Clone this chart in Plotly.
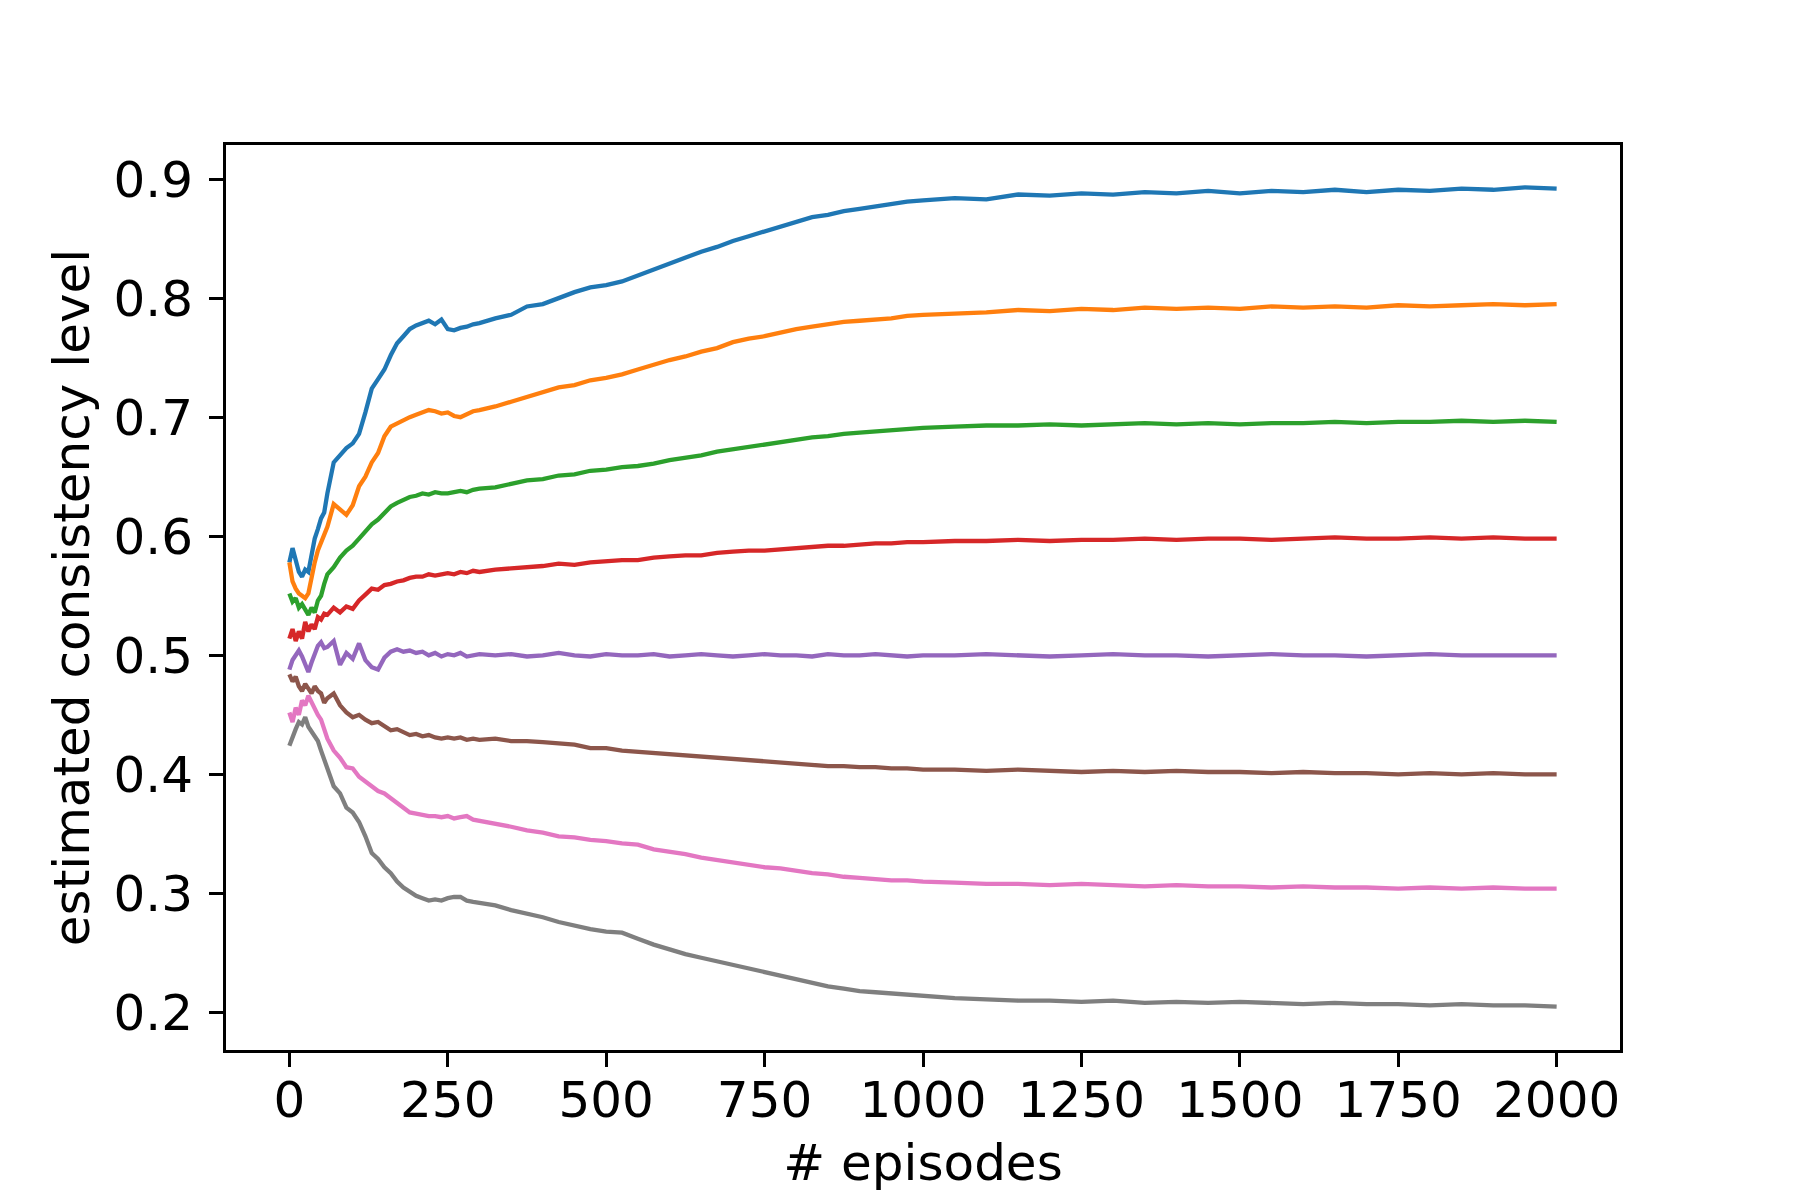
import plotly.graph_objects as go

# x grid (episodes)
EPISODES = [0, 5, 10, 15, 20, 25, 30, 35, 40, 45, 50, 55, 60,
            70, 80, 90, 100, 110, 120, 130, 140, 150, 160, 170, 180, 190, 200,
            210, 220, 230, 240, 250, 260, 270, 280, 290, 300,
            325, 350, 375, 400, 425, 450, 475, 500, 525, 550, 575, 600, 625, 650,
            675, 700, 725, 750, 775, 800, 825, 850, 875, 900, 925, 950, 975, 1000,
            1050, 1100, 1150, 1200, 1250, 1300, 1350, 1400, 1450, 1500,
            1550, 1600, 1650, 1700, 1750, 1800, 1850, 1900, 1950, 2000]

S_BLUE = [0.578, 0.590, 0.580, 0.570, 0.566, 0.572, 0.570, 0.585, 0.598, 0.606, 0.615, 0.620, 0.636,
          0.662, 0.668, 0.674, 0.678, 0.686, 0.704, 0.724, 0.732, 0.740, 0.752, 0.762, 0.768, 0.774, 0.777,
          0.779, 0.781, 0.778, 0.782, 0.774, 0.773, 0.775, 0.776, 0.778, 0.779,
          0.783, 0.786, 0.793, 0.795, 0.800, 0.805, 0.809, 0.811, 0.814, 0.819, 0.824, 0.829, 0.834, 0.839,
          0.843, 0.848, 0.852, 0.856, 0.860, 0.864, 0.868, 0.870, 0.873, 0.875, 0.877, 0.879, 0.881, 0.882,
          0.884, 0.883, 0.887, 0.886, 0.888, 0.887, 0.889, 0.888, 0.890, 0.888,
          0.890, 0.889, 0.891, 0.889, 0.891, 0.890, 0.892, 0.891, 0.893, 0.892]

S_ORANGE = [0.578, 0.562, 0.556, 0.552, 0.550, 0.548, 0.552, 0.566, 0.578, 0.588, 0.594, 0.600, 0.608,
            0.627, 0.622, 0.618, 0.626, 0.642, 0.650, 0.662, 0.670, 0.684, 0.692, 0.695, 0.698, 0.700, 0.702,
            0.704, 0.706, 0.705, 0.703, 0.704, 0.701, 0.700, 0.703, 0.705, 0.706,
            0.709, 0.713, 0.717, 0.721, 0.725, 0.727, 0.731, 0.733, 0.736, 0.740, 0.744, 0.748, 0.751, 0.755,
            0.758, 0.763, 0.766, 0.768, 0.771, 0.774, 0.776, 0.778, 0.780, 0.781, 0.782, 0.783, 0.785, 0.786,
            0.787, 0.788, 0.790, 0.789, 0.791, 0.790, 0.792, 0.791, 0.792, 0.791,
            0.793, 0.792, 0.793, 0.792, 0.794, 0.793, 0.794, 0.795, 0.794, 0.795]

S_GREEN = [0.552, 0.545, 0.548, 0.540, 0.543, 0.538, 0.534, 0.540, 0.536, 0.546, 0.550, 0.560, 0.568,
           0.574, 0.582, 0.588, 0.592, 0.598, 0.604, 0.610, 0.614, 0.620, 0.625, 0.628, 0.631, 0.633, 0.634,
           0.636, 0.635, 0.637, 0.636, 0.636, 0.637, 0.638, 0.637, 0.639, 0.640,
           0.641, 0.644, 0.647, 0.648, 0.651, 0.652, 0.655, 0.656, 0.658, 0.659, 0.661, 0.664, 0.666, 0.668,
           0.671, 0.673, 0.675, 0.677, 0.679, 0.681, 0.683, 0.684, 0.686, 0.687, 0.688, 0.689, 0.690, 0.691,
           0.692, 0.693, 0.693, 0.694, 0.693, 0.694, 0.695, 0.694, 0.695, 0.694,
           0.695, 0.695, 0.696, 0.695, 0.696, 0.696, 0.697, 0.696, 0.697, 0.696]

S_RED = [0.514, 0.522, 0.512, 0.520, 0.514, 0.528, 0.520, 0.526, 0.522, 0.532, 0.530, 0.535, 0.534,
         0.540, 0.536, 0.541, 0.539, 0.546, 0.551, 0.556, 0.555, 0.559, 0.560, 0.562, 0.563, 0.565, 0.566,
         0.566, 0.568, 0.567, 0.568, 0.569, 0.568, 0.570, 0.569, 0.571, 0.570,
         0.572, 0.573, 0.574, 0.575, 0.577, 0.576, 0.578, 0.579, 0.580, 0.580, 0.582, 0.583, 0.584, 0.584,
         0.586, 0.587, 0.588, 0.588, 0.589, 0.590, 0.591, 0.592, 0.592, 0.593, 0.594, 0.594, 0.595, 0.595,
         0.596, 0.596, 0.597, 0.596, 0.597, 0.597, 0.598, 0.597, 0.598, 0.598,
         0.597, 0.598, 0.599, 0.598, 0.598, 0.599, 0.598, 0.599, 0.598, 0.598]

S_PURPLE = [0.488, 0.496, 0.500, 0.504, 0.499, 0.492, 0.486, 0.494, 0.502, 0.508, 0.511, 0.506, 0.507,
            0.512, 0.492, 0.502, 0.497, 0.510, 0.496, 0.490, 0.488, 0.498, 0.503, 0.505, 0.503, 0.504, 0.502,
            0.503, 0.500, 0.502, 0.499, 0.501, 0.500, 0.502, 0.499, 0.500, 0.501,
            0.500, 0.501, 0.499, 0.500, 0.502, 0.500, 0.499, 0.501, 0.500, 0.500, 0.501, 0.499, 0.500, 0.501,
            0.500, 0.499, 0.500, 0.501, 0.500, 0.500, 0.499, 0.501, 0.500, 0.500, 0.501, 0.500, 0.499, 0.500,
            0.500, 0.501, 0.500, 0.499, 0.500, 0.501, 0.500, 0.500, 0.499, 0.500,
            0.501, 0.500, 0.500, 0.499, 0.500, 0.501, 0.500, 0.500, 0.500, 0.500]

S_BROWN = [0.484, 0.478, 0.482, 0.474, 0.470, 0.476, 0.472, 0.468, 0.474, 0.470, 0.468, 0.460, 0.464,
           0.468, 0.458, 0.452, 0.448, 0.450, 0.446, 0.443, 0.444, 0.440, 0.437, 0.438, 0.435, 0.433, 0.434,
           0.432, 0.433, 0.431, 0.430, 0.431, 0.430, 0.431, 0.429, 0.430, 0.429,
           0.430, 0.428, 0.428, 0.427, 0.426, 0.425, 0.422, 0.422, 0.420, 0.419, 0.418, 0.417, 0.416, 0.415,
           0.414, 0.413, 0.412, 0.411, 0.410, 0.409, 0.408, 0.407, 0.407, 0.406, 0.406, 0.405, 0.405, 0.404,
           0.404, 0.403, 0.404, 0.403, 0.402, 0.403, 0.402, 0.403, 0.402, 0.402,
           0.401, 0.402, 0.401, 0.401, 0.400, 0.401, 0.400, 0.401, 0.400, 0.400]

S_PINK = [0.452, 0.444, 0.456, 0.450, 0.462, 0.458, 0.466, 0.460, 0.455, 0.450, 0.446, 0.438, 0.430,
          0.420, 0.414, 0.406, 0.405, 0.398, 0.394, 0.390, 0.386, 0.384, 0.380, 0.376, 0.372, 0.368, 0.367,
          0.366, 0.365, 0.365, 0.364, 0.365, 0.363, 0.364, 0.365, 0.362, 0.361,
          0.359, 0.356, 0.353, 0.351, 0.348, 0.347, 0.345, 0.344, 0.342, 0.341, 0.337, 0.335, 0.333, 0.330,
          0.328, 0.326, 0.324, 0.322, 0.321, 0.319, 0.317, 0.316, 0.314, 0.313, 0.312, 0.311, 0.311, 0.310,
          0.309, 0.308, 0.308, 0.307, 0.308, 0.307, 0.306, 0.307, 0.306, 0.306,
          0.305, 0.306, 0.305, 0.305, 0.304, 0.305, 0.304, 0.305, 0.304, 0.304]

S_GRAY = [0.424, 0.432, 0.438, 0.444, 0.442, 0.448, 0.440, 0.436, 0.432, 0.428, 0.420, 0.412, 0.405,
          0.390, 0.384, 0.372, 0.368, 0.360, 0.348, 0.334, 0.329, 0.322, 0.317, 0.310, 0.305, 0.301, 0.298,
          0.296, 0.294, 0.295, 0.294, 0.296, 0.297, 0.297, 0.294, 0.293, 0.292,
          0.290, 0.286, 0.283, 0.280, 0.276, 0.273, 0.270, 0.268, 0.267, 0.262, 0.257, 0.253, 0.249, 0.246,
          0.243, 0.240, 0.237, 0.234, 0.231, 0.228, 0.225, 0.222, 0.220, 0.218, 0.217, 0.216, 0.215, 0.214,
          0.212, 0.211, 0.210, 0.210, 0.209, 0.210, 0.208, 0.209, 0.208, 0.209,
          0.208, 0.207, 0.208, 0.207, 0.207, 0.206, 0.207, 0.206, 0.206, 0.205]

SERIES = [S_BLUE, S_ORANGE, S_GREEN, S_RED, S_PURPLE, S_BROWN, S_PINK, S_GRAY]
COLORS = ["#1f77b4", "#ff7f0e", "#2ca02c", "#d62728", "#9467bd", "#8c564b", "#e377c2", "#7f7f7f"]

X_TICKS = [0, 250, 500, 750, 1000, 1250, 1500, 1750, 2000]
Y_TICKS = [0.2, 0.3, 0.4, 0.5, 0.6, 0.7, 0.8, 0.9]
Y_TICKTEXT = ["0.2", "0.3", "0.4", "0.5", "0.6", "0.7", "0.8", "0.9"]

fig = go.Figure()
for ys, c in zip(SERIES, COLORS):
    fig.add_trace(go.Scatter(x=EPISODES, y=ys, mode="lines",
                             line=dict(color=c, width=4.3), showlegend=False))

FONT = "DejaVu Sans"
FS = 50
fig.update_layout(
    width=1800, height=1200,
    margin=dict(l=218, r=188, t=137, b=158),
    plot_bgcolor="white", paper_bgcolor="white",
    font=dict(family=FONT, size=FS, color="black"),
    showlegend=False,
)
fig.update_xaxes(
    range=[-100, 2100], tickvals=X_TICKS, ticks="outside", ticklen=14, tickwidth=3,
    tickcolor="black", showline=True, linecolor="black", linewidth=3, mirror=True,
    showgrid=False, zeroline=False, ticklabelstandoff=-10,
    title=dict(text="# episodes", standoff=17, font=dict(family=FONT, size=FS)),
)
fig.update_yaxes(
    range=[0.1685, 0.9286], tickvals=Y_TICKS, ticktext=Y_TICKTEXT, ticks="outside",
    ticklen=14, tickwidth=3, tickcolor="black", showline=True, linecolor="black",
    linewidth=3, mirror=True, showgrid=False, zeroline=False, ticklabelstandoff=6,
    title=dict(text="estimated consistency level", standoff=8, font=dict(family=FONT, size=FS)),
)

fig.write_html("out.html")
